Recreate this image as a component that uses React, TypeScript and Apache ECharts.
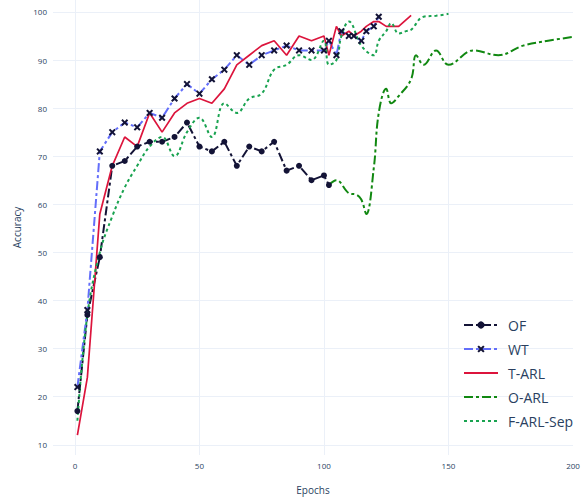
import React, { useEffect, useRef } from "react";
import * as echarts from "echarts";

const OF_EPOCHS = [1, 5, 10, 15, 20, 25, 30, 35, 40, 45, 50, 55, 60, 65, 70, 75, 80, 85, 90, 95, 100, 102];
const OF_ACC = [17, 37, 49, 68, 69, 72, 73, 73, 74, 77, 72, 71, 73, 68, 72, 71, 73, 67, 68, 65, 66, 64];

const WT_EPOCHS = [1, 5, 10, 15, 20, 25, 30, 35, 40, 45, 50, 55, 60, 65, 70, 75, 80, 85, 90, 95, 100, 102, 105, 107, 110, 112, 115, 117, 120, 122];
const WT_ACC = [22, 38, 71, 75, 77, 76, 79, 78, 82, 85, 83, 86, 88, 91, 89, 91, 92, 93, 92, 92, 92, 94, 91, 96, 95, 95, 94, 96, 97, 99];

const TARL_EPOCHS = [1, 5, 10, 15, 20, 25, 30, 35, 40, 45, 50, 55, 60, 65, 70, 75, 80, 85, 90, 95, 100, 102, 105, 107, 110, 112, 115, 117, 120, 122, 125, 130, 135];
const TARL_ACC = [12, 24, 58, 68, 74, 72, 79, 75, 79, 81, 82, 81, 84, 89, 91, 93, 94, 91, 95, 94, 95, 91, 97, 95, 96, 95, 96, 97, 98, 98, 97, 97, 99.3];

const OARL_EPOCHS = [102, 105, 110, 113, 115, 117, 120, 122, 125, 127, 130, 135, 137, 140, 145, 150, 160, 170, 180, 190, 200];
const OARL_ACC = [64, 65, 62.3, 62, 61, 58, 67.5, 79, 84, 81, 82.5, 86, 91, 89, 92, 89, 92, 91, 93, 94, 94.8];

const FARL_EPOCHS = [1, 5, 10, 15, 20, 25, 30, 35, 40, 45, 50, 55, 60, 65, 70, 75, 80, 85, 90, 95, 100, 102, 105, 107, 110, 115, 120, 122, 125, 127, 130, 133, 135, 140, 145, 150];
const FARL_ACC = [15, 37, 50, 57.5, 63.5, 68, 72, 74, 70, 75, 78, 74, 81, 79, 82, 83, 88, 89, 91, 90, 94, 89, 90, 95, 98, 93, 91, 94, 96, 97.7, 95.5, 96, 96.3, 99, 99.2, 99.6];

const X_TICK_STEP = 50;
const Y_TICK_STEP = 10;

function pairs(xs: number[], ys: number[]) {
  return xs.map((x, i) => [x, ys[i]]);
}

const X_SYMBOL = "path://M2,0 L5,3 L8,0 L10,2 L7,5 L10,8 L8,10 L5,7 L2,10 L0,8 L3,5 L0,2 Z";

export default function App() {
  const ref = useRef<HTMLDivElement>(null);
  useEffect(() => {
    document.body.style.margin = "0";
    const chart = echarts.init(ref.current!, null, { renderer: "svg" });
    const txt = "#2a3f5f";
    const gridColor = "#EBF0F8";
    const dark = "#131336";
    const dashdot = [9, 3, 3, 3];
    chart.setOption({
      animation: false,
      backgroundColor: "#ffffff",
      textStyle: { fontFamily: "'Open Sans', sans-serif" },
      grid: { left: 53, right: 10, top: 0, bottom: 43, containLabel: false },
      xAxis: {
        type: "value",
        min: -8.8,
        max: 200,
        minInterval: X_TICK_STEP,
        maxInterval: X_TICK_STEP,
        name: "Epochs",
        nameLocation: "middle",
        nameGap: 30,
        nameTextStyle: { color: txt, fontSize: 10 },
        axisLine: { show: false },
        axisTick: { show: false },
        axisLabel: { color: txt, fontSize: 8, margin: 6, showMinLabel: false, showMaxLabel: true },
        splitLine: { show: true, showMinLine: false, showMaxLine: false, lineStyle: { color: gridColor, width: 1 } },
      },
      yAxis: {
        type: "value",
        min: 7.87,
        max: 102.48,
        minInterval: Y_TICK_STEP,
        maxInterval: Y_TICK_STEP,
        name: "Accuracy",
        nameLocation: "middle",
        nameRotate: 90,
        nameGap: 28,
        nameTextStyle: { color: txt, fontSize: 10 },
        axisLine: { show: false },
        axisTick: { show: false },
        axisLabel: { color: txt, fontSize: 8, margin: 6, showMinLabel: false, showMaxLabel: false },
        splitLine: { show: true, showMinLine: false, showMaxLine: false, lineStyle: { color: gridColor, width: 1 } },
      },
      legend: {
        orient: "vertical",
        left: 463,
        top: 318,
        padding: 0,
        itemWidth: 34,
        itemHeight: 9,
        itemGap: 10,
        textStyle: { color: txt, fontSize: 14, padding: [0, 0, 0, 5] },
        data: [
          { name: "OF" },
          { name: "WT" },
          { name: "T-ARL", itemStyle: { opacity: 0 } },
          { name: "O-ARL", itemStyle: { opacity: 0 } },
          { name: "F-ARL-Sep", itemStyle: { opacity: 0 } },
        ],
      },
      series: [
        {
          name: "OF",
          type: "line",
          data: pairs(OF_EPOCHS, OF_ACC),
          symbol: "circle",
          symbolSize: 6,
          itemStyle: { color: dark },
          lineStyle: { color: dark, width: 2, type: dashdot },
        },
        {
          name: "WT",
          type: "line",
          data: pairs(WT_EPOCHS, WT_ACC),
          symbol: X_SYMBOL,
          symbolSize: 7,
          itemStyle: { color: dark },
          lineStyle: { color: "#636efa", width: 2, type: dashdot },
        },
        {
          name: "T-ARL",
          type: "line",
          data: pairs(TARL_EPOCHS, TARL_ACC),
          symbol: "none",
          itemStyle: { color: "#dc143c" },
          lineStyle: { color: "#dc143c", width: 1.7 },
        },
        {
          name: "O-ARL",
          type: "line",
          data: pairs(OARL_EPOCHS, OARL_ACC),
          symbol: "none",
          smooth: 0.4,
          itemStyle: { color: "#118811" },
          lineStyle: { color: "#118811", width: 2, type: dashdot },
        },
        {
          name: "F-ARL-Sep",
          type: "line",
          data: pairs(FARL_EPOCHS, FARL_ACC),
          symbol: "none",
          smooth: 0.4,
          itemStyle: { color: "#19a350" },
          lineStyle: { color: "#19a350", width: 2, type: [3, 3] },
        },
      ],
    });
    return () => chart.dispose();
  }, []);
  return <div ref={ref} style={{ position: "absolute", left: 0, top: 0, width: 583, height: 500 }} />;
}
